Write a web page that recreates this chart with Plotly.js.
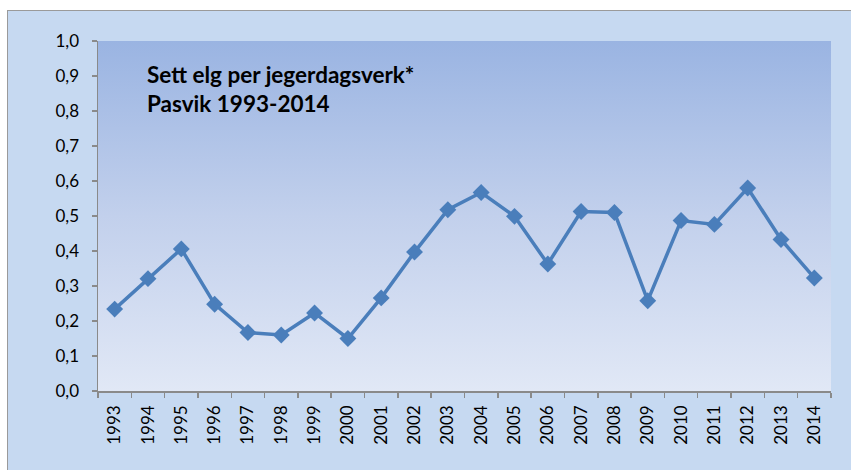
<!DOCTYPE html>
<html>
<head>
<meta charset="utf-8">
<script src="https://cdn.plot.ly/plotly-3.0.1.min.js"></script>
<style>
html,body{margin:0;padding:0;background:#ffffff;width:851px;height:470px;overflow:hidden;}
#frame{position:absolute;left:7px;top:10px;width:844px;height:460px;border-left:1px solid #9a9a9a;border-top:1px solid #9a9a9a;box-sizing:border-box;}
#chart{position:absolute;left:0;top:0;width:843px;height:459px;}
</style>
</head>
<body>
<div id="frame"><div id="chart"></div></div>
<script>
const years = ["1993","1994","1995","1996","1997","1998","1999","2000","2001","2002","2003","2004","2005","2006","2007","2008","2009","2010","2011","2012","2013","2014"];
const settElg = [0.234,0.321,0.406,0.248,0.167,0.160,0.223,0.150,0.266,0.397,0.518,0.567,0.499,0.363,0.513,0.510,0.258,0.487,0.476,0.580,0.433,0.323];
const yTicks = [0,0.1,0.2,0.3,0.4,0.5,0.6,0.7,0.8,0.9,1.0];
const titleLines = ["Sett elg per jegerdagsverk*","Pasvik 1993-2014"];

const gradSvg = '<svg xmlns="http://www.w3.org/2000/svg" width="10" height="100" preserveAspectRatio="none"><defs><linearGradient id="g" x1="0" y1="0" x2="0" y2="1"><stop offset="0" stop-color="#9ab4e2"/><stop offset="0.5" stop-color="#c2d0ec"/><stop offset="1" stop-color="#e1e8f6"/></linearGradient></defs><rect width="10" height="100" fill="url(#g)"/></svg>';
const gradUri = 'data:image/svg+xml;base64,' + btoa(gradSvg);

const font = "Lato, 'Open Sans', 'Liberation Sans', sans-serif";

const trace = {
  type: 'scatter',
  mode: 'lines+markers',
  x: years,
  y: settElg,
  line: {color: '#4a7ebb', width: 3.5},
  marker: {symbol: 'diamond', size: 13, color: '#4a7ebb'},
  hoverinfo: 'x+y',
  cliponaxis: false
};

const layout = {
  width: 843,
  height: 459,
  margin: {l: 90, r: 20, t: 30, b: 79, pad: 0},
  paper_bgcolor: '#c6d9f1',
  plot_bgcolor: 'rgba(0,0,0,0)',
  separators: ',.',
  showlegend: false,
  font: {family: font, size: 17, color: '#000000'},
  xaxis: {
    type: 'category',
    range: [-0.5, years.length - 0.5],
    autorange: false,
    tickmode: 'array',
    tickvals: years,
    ticktext: years,
    tickangle: -90,
    ticks: 'outside',
    tickson: 'boundaries',
    ticklen: 5,
    tickcolor: '#8a8a8a',
    tickwidth: 1.5,
    ticklabelstandoff: 6,
    showline: true,
    linecolor: '#8a8a8a',
    linewidth: 1.5,
    showgrid: false,
    zeroline: false,
    tickfont: {family: font, size: 17, color: '#000000'},
    fixedrange: true
  },
  yaxis: {
    range: [0, 1],
    autorange: false,
    tickmode: 'array',
    tickvals: yTicks,
    tickformat: '.1f',
    ticks: 'outside',
    ticklen: 5,
    tickcolor: '#8a8a8a',
    tickwidth: 1.5,
    ticklabelstandoff: 9,
    showline: true,
    linecolor: '#8a8a8a',
    linewidth: 1.5,
    showgrid: false,
    zeroline: false,
    tickfont: {family: font, size: 17, color: '#000000'},
    fixedrange: true
  },
  images: [{
    source: gradUri,
    xref: 'paper', yref: 'paper',
    x: 0, y: 1, sizex: 1, sizey: 1,
    xanchor: 'left', yanchor: 'top',
    sizing: 'stretch',
    layer: 'below'
  }],
  annotations: [{
    xref: 'paper', yref: 'paper',
    x: 0.064, y: 0.95,
    xanchor: 'left', yanchor: 'top',
    align: 'left',
    showarrow: false,
    text: '<b>' + titleLines[0] + '</b><br><b>' + titleLines[1] + '</b>',
    font: {family: font, size: 22.5, color: '#000000'}
  }]
};

Plotly.newPlot('chart', [trace], layout, {displayModeBar: false, staticPlot: true});
</script>
</body>
</html>
